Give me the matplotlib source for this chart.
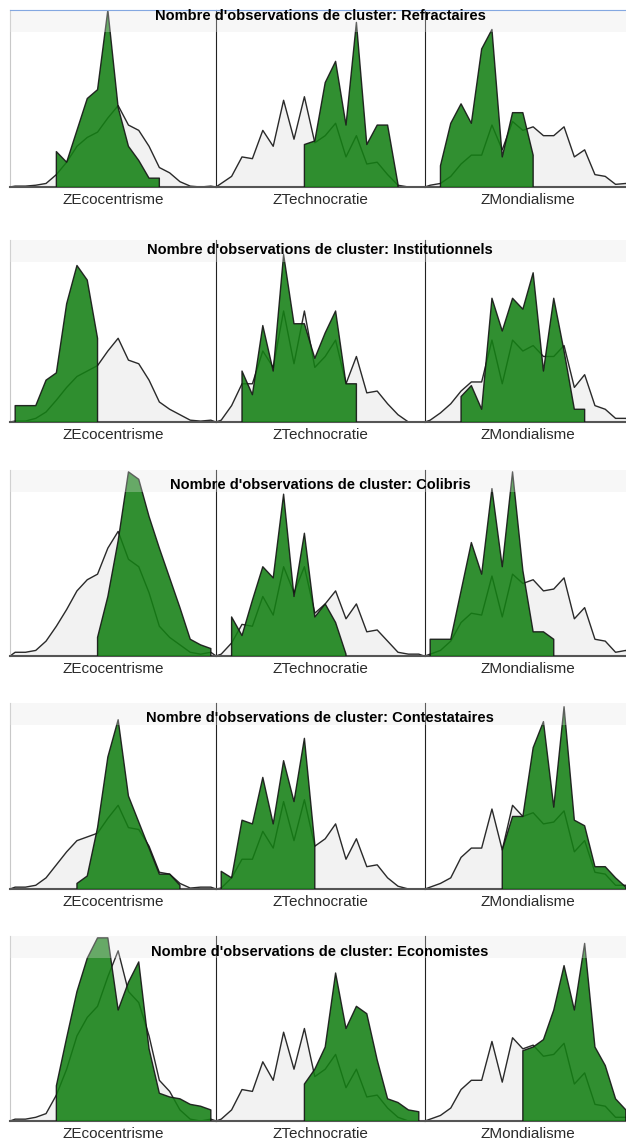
import numpy as np
import matplotlib
matplotlib.use('Agg')
import matplotlib.pyplot as plt
from matplotlib.patches import Rectangle
from matplotlib.lines import Line2D

plt.rcParams['font.family'] = ['Liberation Sans', 'DejaVu Sans']

#------------------------------------------------------------
# data (% of panel height, 20 bins)
#------------------------------------------------------------
clusters = ['Refractaires', 'Institutionnels', 'Colibris', 'Contestataires', 'Economistes']
variables = ['ZEcocentrisme', 'ZTechnocratie', 'ZMondialisme']
N = None

# overall distribution (grey)
grey_eco = [
    [0.5, 0.5, 1, 2, 7, 14, 23, 28, 31, 39, 46, 35, 32, 23, 11, 8, 3, 0.5, 0, 0.5],
    [0.5, 0.5, 2, 5.5, 12, 19, 25, 28, 31, 39, 46, 34, 32, 23, 11, 7, 4, 1, 0.5, 1],
    [2, 2, 3, 8, 16, 25, 35, 41, 44, 58, 67, 52, 48, 34, 16, 10, 6, 2, 1, 2],
    [1, 1, 2, 6, 13, 20, 26, 28, 30, 38, 45, 33, 32, 23, 9, 8, 3, 0.5, 1, 1],
    [1, 1, 2, 4, 14, 28, 46, 56, 62, 78, 92, 70, 64, 46, 22, 16, 6, 1, 0, 1],
]
grey_tech = [
    [2, 6, 17, 16, 32, 23, 49, 27, 51, 25, 29, 36, 17, 29, 13, 14, 7, 1, 0, 0],
    [1, 9, 21, 21, 39, 30, 61, 32, 61, 30, 36, 45, 21, 36, 16, 17, 10, 4, 0, 0],
    [1, 7, 17, 16, 32, 22, 48, 34, 48, 23, 28, 35, 20, 28, 13, 14, 8, 2, 1, 1],
    [0.5, 6, 16, 16, 31, 22, 47, 26, 48, 23, 27, 35, 16, 27, 12, 13, 6, 1.5, 0, 0],
    [1, 6, 17, 16, 32, 22, 48, 28, 50, 24, 28, 36, 18, 28, 13, 14, 7, 2, 0, 0],
]
grey_mond = [
    [1, 2, 6, 13, 18, 18, 35, 21, 37, 32, 34, 29, 29, 34, 17, 21, 7, 6, 1.5, 2],
    [1, 5, 10, 17, 22, 22, 45, 21, 45, 39, 42, 36, 36, 42, 19, 26, 9, 7, 2, 2],
    [1, 3, 8, 18, 23, 22, 43, 21, 44, 39, 41, 35, 36, 42, 20, 26, 9, 8, 2, 3],
    [1, 3, 6, 17, 22, 22, 43, 21, 45, 39, 41, 35, 36, 42, 20, 26, 9, 8, 2, 2],
    [1, 3, 7, 17, 22, 22, 43, 21, 45, 39, 41, 35, 36, 42, 20, 26, 9, 8, 2, 2],
]

# cluster distribution (green), None = no observation in the bin
green_eco = [
    [N, N, N, N, 20, 14, 32, 50, 55, 100, 45, 23, 15, 5, 5, N, N, N, N, N],
    [9, 9, 9, 23, 27, 65, 86, 78, 46, N, N, N, N, N, N, N, N, N, N, N],
    [N, N, N, N, N, N, N, N, 10, 32, 62, 99, 95, 75, 58, 42, 26, 9, 6, 4],
    [N, N, N, N, N, N, 3, 7, 33, 71, 91, 50, 36, 22, 8, 8, 2, N, N, N],
    [N, N, N, N, 19, 45, 70, 88, 99, 99, 60, 75, 86, 39, 15, 13, 12, 9, 8, 6],
]
green_tech = [
    [N, N, N, N, N, N, N, N, 24, 26, 59, 71, 35, 93, 24, 35, 35, 1.5, N, N],
    [N, N, 28, 15, 53, 28, 92, 54, 54, 35, 49, 61, 21, 21, N, N, N, N, N, N],
    [N, 21, 11, 30, 48, 42, 87, 32, 66, 21, 28, 18, 1, N, N, N, N, N, N, N],
    [9.5, 6, 37, 35, 60, 35, 69, 47, 81, 24, N, N, N, N, N, N, N, N, N, N],
    [N, N, N, N, N, N, N, N, 20, 28, 40, 80, 50, 62, 58, 33, 12, 10, 6, 5],
]
green_mond = [
    [N, 12, 36, 47, 36, 78, 89, 17, 42, 42, 18, N, N, N, N, N, N, N, N, N],
    [N, N, N, 14, 20, 7, 68, 50, 68, 62, 82, 28, 68, 39, 7, 7, N, N, N, N],
    [9, 9, 9, 35, 61, 44, 90, 48, 99, 46, 13, 13, 9, N, N, N, N, N, N, N],
    [N, N, N, N, N, N, N, 21, 39, 39, 76, 90, 44, 98, 37, 34, 12, 12, 6, 1],
    [N, N, N, N, N, N, N, N, N, 38, 40, 44, 60, 84, 60, 96, 40, 30, 12, 6],
]

greys = [grey_eco, grey_tech, grey_mond]
greens = [green_eco, green_tech, green_mond]

#------------------------------------------------------------
# layout (pixels)
#------------------------------------------------------------
W, H = 626, 1140
col_x = [(10, 216), (216, 424), (425, 631)]
row_y = [(10, 187), (240, 422), (470, 656), (703, 889), (936, 1121)]
title_y = [16, 250, 485, 718, 952]

fig = plt.figure(figsize=(W / 100, H / 100), dpi=100)

xs = np.arange(20)
for r in range(5):
    y0, y1 = row_y[r]
    for c in range(3):
        x0, x1 = col_x[c]
        ax = fig.add_axes([x0 / W, 1 - y1 / H, (x1 - x0) / W, (y1 - y0) / H])
        ax.set_xlim(-0.5, 19.5)
        ax.set_ylim(0, 100)

        # grey = all observations
        g = greys[c][r]
        gx = np.concatenate([[-0.5], xs, [19.5]])
        gy = np.concatenate([[0], g, [0]])
        ax.fill(gx, gy, facecolor='#f2f2f2', edgecolor='none', zorder=1)
        ax.plot(gx, gy, color='#2a2a2a', lw=1, zorder=2)

        # green = cluster
        v = np.array([np.nan if a is None else a for a in greens[c][r]], dtype=float)
        idx = np.where(~np.isnan(v))[0]
        px = np.concatenate([[xs[idx][0]], xs[idx], [xs[idx][-1]]])
        py = np.concatenate([[0], v[idx], [0]])
        ax.fill(px, py, facecolor='#148014', alpha=0.88, edgecolor='none', zorder=3)
        ax.plot(px, py, color='#151515', lw=1, alpha=0.9, zorder=4)

        ax.set_xticks([])
        ax.set_yticks([])
        ax.spines['top'].set_visible(False)
        ax.spines['right'].set_visible(False)
        ax.spines['left'].set_color('#c8c8c8' if c == 0 else '#222222')
        ax.spines['bottom'].set_color('#555555')
        ax.spines['bottom'].set_linewidth(1.5)

        fig.text((x0 + x1) / 2 / W, 1 - (y1 + 13) / H, variables[c],
                 ha='center', va='center', fontsize=11, color='#2a2a2a')

    # light band at the top of each row
    fig.add_artist(Rectangle((10 / W, 1 - (y0 + 22) / H), (W - 10) / W, 22 / H,
                             transform=fig.transFigure, facecolor='#e6e6e6',
                             alpha=0.3, edgecolor='none', zorder=5))
    fig.text(320 / W, 1 - title_y[r] / H,
             "Nombre d'observations de cluster: " + clusters[r],
             ha='center', va='center', fontsize=10.5, fontweight='bold', zorder=6)

# thin blue line at the very top
fig.add_artist(Line2D([10 / W, 1], [1 - 10 / H, 1 - 10 / H], color='#5b8ee0', lw=0.8))

fig.savefig('out.png', dpi=100)
